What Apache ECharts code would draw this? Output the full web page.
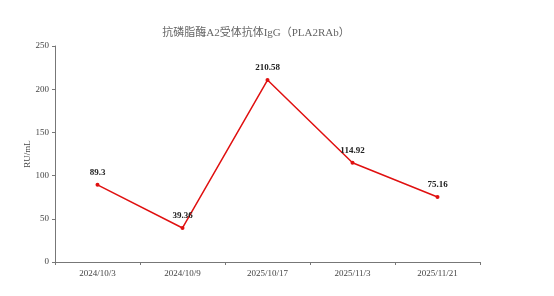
<!DOCTYPE html>
<html><head><meta charset="utf-8">
<script src="https://cdn.jsdelivr.net/npm/echarts@6/dist/echarts.min.js"></script>
<style>html,body{margin:0;padding:0;background:#fff}#c{width:554px;height:296px}</style>
</head><body><div id="c"></div>
<script>
const categories = ['2024/10/3','2024/10/9','2025/10/17','2025/11/3','2025/11/21'];
const values = [89.3, 39.36, 210.58, 114.92, 75.16];
const titleText = '抗磷脂酶A2受体抗体IgG（PLA2RAb）';
const yName = 'RU/mL';

const chart = echarts.init(document.getElementById('c'));
const serif = '"Liberation Serif","Times New Roman","Noto Sans CJK SC",serif';
chart.setOption({
  animation: false,
  title: {text: titleText, left: 251, textAlign: 'center', top: 23,
    textStyle: {fontFamily: '"Liberation Serif","Noto Sans CJK SC",serif', fontSize: 11, fontWeight: 'normal', color: '#666'}},
  grid: {left: 55, right: 74, top: 46, bottom: 34},
  xAxis: {type: 'category', data: categories, boundaryGap: true,
    axisLine: {lineStyle: {color: '#777', width: 1}},
    axisTick: {show: true, length: 3, lineStyle: {color: '#777'}},
    axisLabel: {fontFamily: serif, fontSize: 9, color: '#444', margin: 7},
    splitLine: {show: false}},
  yAxis: {type: 'value', min: 0, max: 250, interval: 50, name: yName,
    nameLocation: 'middle', nameGap: 23, nameRotate: 90, nameMoveOverlap: false,
    nameTextStyle: {fontFamily: serif, fontSize: 9, color: '#444'},
    axisLine: {show: true, lineStyle: {color: '#777', width: 1}},
    axisTick: {show: true, length: 3, lineStyle: {color: '#777'}},
    axisLabel: {fontFamily: serif, fontSize: 9, color: '#444', margin: 6},
    splitLine: {show: false}},
  series: [{type: 'line', data: values, symbol: 'circle', symbolSize: 4,
    itemStyle: {color: '#e01010'}, lineStyle: {color: '#e01010', width: 1.5},
    label: {show: true, position: 'top', distance: 6, fontFamily: serif, fontSize: 9,
      fontWeight: 'bold', color: '#222'}}]
});
</script></body></html>
